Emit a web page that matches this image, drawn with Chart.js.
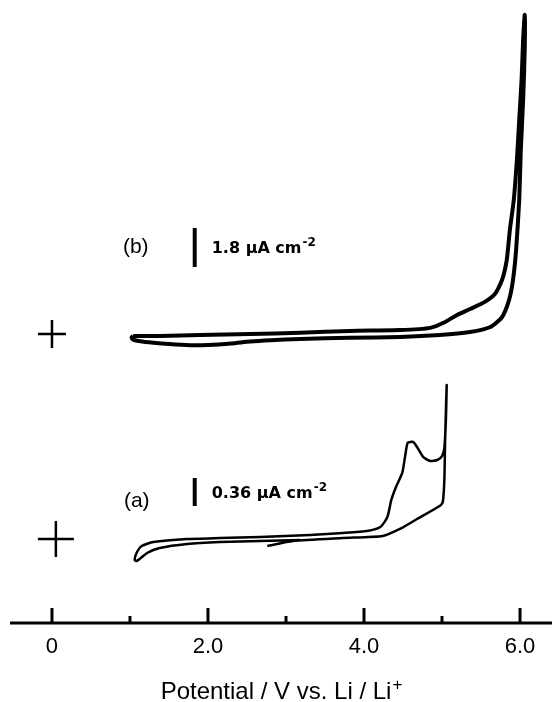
<!DOCTYPE html>
<html>
<head>
<meta charset="utf-8">
<script src="https://cdn.jsdelivr.net/npm/chart.js@4"></script>
<style>
  html, body { margin: 0; padding: 0; background: #fff; }
  canvas { display: block; }
</style>
</head>
<body>
<canvas id="cv" width="552" height="702"></canvas>
<script>
// Cyclic voltammograms, potential in V vs Li/Li+, current density in uA cm-2

// (b): forward sweep up to ~6 V, then back down to 1 V
const potentialB = [1.04, 1.38, 1.90, 2.54, 3.18, 3.82, 4.46, 4.85, 5.04, 5.17, 5.36, 5.55, 5.68, 5.77, 5.83, 5.87, 5.92, 5.96, 5.99, 6.02, 6.04, 6.06,
                    6.06, 6.04, 6.01, 5.99, 5.95, 5.91, 5.86, 5.77, 5.62, 5.36, 4.97, 4.46, 3.82, 3.18, 2.80, 2.54, 2.30, 2.00, 1.77, 1.50, 1.30, 1.13, 1.04, 1.02, 1.04];
const currentB   = [-0.09, -0.09, -0.05, 0.00, 0.05, 0.14, 0.18, 0.28, 0.55, 0.83, 1.15, 1.48, 1.85, 2.49, 3.42, 4.80, 6.18, 8.03, 9.88, 11.72, 13.57, 14.72,
                    13.11, 10.80, 8.49, 6.18, 3.88, 2.49, 1.57, 0.78, 0.32, 0.09, -0.05, -0.14, -0.18, -0.23, -0.29, -0.35, -0.44, -0.51, -0.52, -0.47, -0.41, -0.34, -0.26, -0.17, -0.09];

// (a): starts near 2.8 V, up to 5.05 V, back down to 1 V and up again
const potentialA = [2.76, 3.09, 3.73, 4.24, 4.46, 4.68, 4.97, 5.01, 5.03, 5.04, 5.05, 5.06,
                    5.05, 5.03, 5.00, 4.94, 4.85, 4.76, 4.68, 4.63, 4.56, 4.53, 4.49, 4.41, 4.35, 4.30, 4.21, 4.04, 3.73, 3.31, 2.67, 2.15, 1.73, 1.30, 1.15, 1.09, 1.06,
                    1.09, 1.22, 1.38, 1.73, 2.15, 2.67, 3.18];
const currentA   = [-0.090, -0.026, 0.013, 0.039, 0.129, 0.257, 0.424, 0.476, 0.759, 1.273, 1.659, 1.980,
                    1.530, 1.170, 1.067, 1.016, 1.003, 1.054, 1.183, 1.247, 1.235, 1.080, 0.849, 0.669, 0.502, 0.283, 0.154, 0.103, 0.077, 0.051, 0.026, 0.013, 0.000, -0.039, -0.090, -0.167, -0.270,
                    -0.283, -0.180, -0.116, -0.064, -0.039, -0.026, -0.013];

// scale bars (uA cm-2) and where they sit
const barPotential = 1.83;
const barA = [0.424, 0.784];   // 0.36 uA cm-2
const barB = [3.09, 4.89];     // 1.8 uA cm-2

// zero-current markers
const originA = [{ x: 0.05, y: 0 }];
const originB = [{ x: 0, y: 0 }];

const xTicks = [0, 1, 2, 3, 4, 5, 6];
const xTickLabels = ['0', '', '2.0', '', '4.0', '', '6.0'];
const xMin = -0.538, xMax = 6.41;
const yaMin = -1.080, yaMax = 6.93;
const ybMin = -13.34, ybMax = 15.41;

const toPoints = (xs, ys) => xs.map((v, i) => ({ x: v, y: ys[i] }));

function drawSup(ctx, base, sup, x, y, font, supFont, raise, align) {
    ctx.font = font;
    const wb = ctx.measureText(base).width;
    ctx.font = supFont;
    const ws = ctx.measureText(sup).width;
    let x0 = x;
    if (align === 'center') x0 = x - (wb + ws) / 2;
    ctx.textAlign = 'left';
    ctx.font = font;
    ctx.fillText(base, x0, y);
    ctx.font = supFont;
    ctx.fillText(sup, x0 + wb + 1, y - raise);
}

// axis line with tick marks pointing up into the plot
const axisPlugin = {
    id: 'axisMarks',
    afterDraw(chart) {
        const ctx = chart.ctx;
        const xs = chart.scales.x;
        const area = chart.chartArea;
        const y = area.bottom;
        ctx.save();
        ctx.strokeStyle = '#000';
        ctx.lineWidth = 3;
        ctx.beginPath();
        ctx.moveTo(area.left, y);
        ctx.lineTo(area.right, y);
        ctx.stroke();
        xTicks.forEach((v, i) => {
            const px = xs.getPixelForValue(v);
            const len = xTickLabels[i] ? 15 : 7;
            ctx.beginPath();
            ctx.moveTo(px, y);
            ctx.lineTo(px, y - len);
            ctx.stroke();
        });
        ctx.restore();
    }
};

// panel letters, scale bar labels and the axis title
const textPlugin = {
    id: 'texts',
    afterDraw(chart) {
        const ctx = chart.ctx;
        const xs = chart.scales.x, ya = chart.scales.ya, yb = chart.scales.yb;
        const area = chart.chartArea;
        const bx = xs.getPixelForValue(barPotential);
        const cyB = yb.getPixelForValue((barB[0] + barB[1]) / 2);
        const cyA = ya.getPixelForValue((barA[0] + barA[1]) / 2);
        ctx.save();
        ctx.fillStyle = '#000';
        ctx.textBaseline = 'middle';
        ctx.textAlign = 'center';
        ctx.font = '21px "Liberation Sans", Arial, sans-serif';
        ctx.fillText('(b)', bx - 59, cyB);
        ctx.fillText('(a)', bx - 58, cyA + 9);

        ctx.textBaseline = 'alphabetic';
        const lf = 'bold 16px "DejaVu Sans", sans-serif';
        const sf = 'bold 12px "DejaVu Sans", sans-serif';
        drawSup(ctx, '1.8 \u03bcA cm', '-2', bx + 17, cyB + 6, lf, sf, 7, 'left');
        drawSup(ctx, '0.36 \u03bcA cm', '-2', bx + 17, cyA + 6, lf, sf, 7, 'left');

        drawSup(ctx, 'Potential / V vs. Li / Li', '+', (area.left + area.right) / 2, 699,
            '24px "Liberation Sans", Arial, sans-serif', '17px "Liberation Sans", Arial, sans-serif', 9, 'center');
        ctx.restore();
    }
};

new Chart(document.getElementById('cv'), {
    type: 'scatter',
    data: {
        datasets: [
            { data: toPoints(potentialB, currentB), yAxisID: 'yb', showLine: true, borderColor: '#000', borderWidth: 4, pointRadius: 0, tension: 0.2 },
            { data: toPoints(potentialA, currentA), yAxisID: 'ya', showLine: true, borderColor: '#000', borderWidth: 2.5, pointRadius: 0, tension: 0.2 },
            { data: [{ x: barPotential, y: barB[0] }, { x: barPotential, y: barB[1] }], yAxisID: 'yb', showLine: true, borderColor: '#000', borderWidth: 4, pointRadius: 0, borderCapStyle: 'butt' },
            { data: [{ x: barPotential, y: barA[0] }, { x: barPotential, y: barA[1] }], yAxisID: 'ya', showLine: true, borderColor: '#000', borderWidth: 4, pointRadius: 0, borderCapStyle: 'butt' },
            { data: originB, yAxisID: 'yb', pointStyle: 'cross', pointRadius: 14, borderColor: '#000', borderWidth: 2.5 },
            { data: originA, yAxisID: 'ya', pointStyle: 'cross', pointRadius: 18, borderColor: '#000', borderWidth: 2.5 }
        ]
    },
    options: {
        responsive: false,
        animation: false,
        devicePixelRatio: 1,
        layout: { autoPadding: false, padding: { left: 10, right: 0, top: 0, bottom: 0 } },
        plugins: { legend: { display: false }, tooltip: { enabled: false } },
        scales: {
            x: {
                type: 'linear',
                min: xMin,
                max: xMax,
                grid: { display: false },
                border: { display: false },
                afterBuildTicks: (scale) => { scale.ticks = xTicks.map(v => ({ value: v })); },
                afterFit: (scale) => {
                    scale.height = 79;
                    scale.paddingLeft = 0;
                    scale.paddingRight = 0;
                },
                ticks: {
                    autoSkip: false,
                    maxRotation: 0,
                    padding: 3,
                    color: '#000',
                    font: { family: '"Liberation Sans", Arial, sans-serif', size: 22 },
                    callback: (v) => xTickLabels[xTicks.indexOf(v)] ?? ''
                }
            },
            ya: { type: 'linear', display: false, min: yaMin, max: yaMax },
            yb: { type: 'linear', display: false, min: ybMin, max: ybMax }
        }
    },
    plugins: [axisPlugin, textPlugin]
});
</script>
</body>
</html>
